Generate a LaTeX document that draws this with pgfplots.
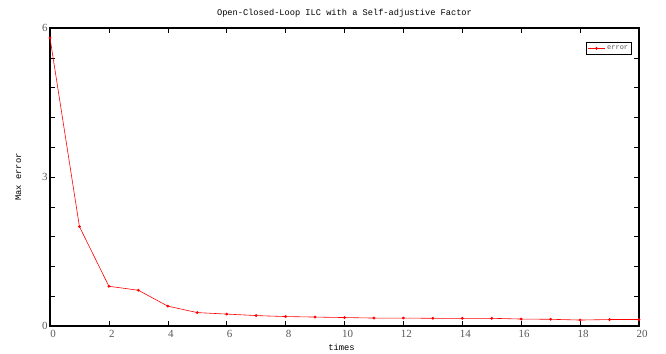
\documentclass[border=0pt]{standalone}
\usepackage{pgfplots}
\pgfplotsset{compat=1.18}
\usepackage{fontspec}
\setmainfont{Liberation Mono}
\newfontfamily\numfont{Liberation Serif}
\begin{document}
\begin{tikzpicture}
\path[use as bounding box] (-50bp,-28bp) rectangle (616bp,326bp);
\begin{axis}[
  at={(0,0)}, anchor=south west,
  scale only axis, width=589bp, height=298bp,
  xmin=0, xmax=20, ymin=0, ymax=6,
  xtick={0,2,...,20},
  ytick={0,3,6},
  minor ytick={0.6,1.2,1.8,2.4,3.6,4.2,4.8,5.4},
  tick align=inside,
  major tick length=5bp, minor tick length=5bp,
  tick style={black, semithick},
  axis line style={black, line width=1.2pt},
  ticklabel style={font=\numfont\fontsize{11}{12}\selectfont, text=black!65},
  xticklabel style={yshift=-1bp, xshift=3bp},
  yticklabel style={xshift=1bp},
  /pgf/number format/assume math mode=true,
  xtick pos=both, ytick pos=both,
  title={Open-Closed-Loop ILC with a Self-adjustive Factor},
  title style={font=\fontsize{8.7}{9}\selectfont, at={(axis description cs:0.5,1.03)}, anchor=center},
  xlabel={times},
  ylabel={Max error},
  xlabel style={font=\fontsize{8.8}{9}\selectfont, at={(axis description cs:0.495,-0.071)}, anchor=center},
  ylabel style={font=\fontsize{8.8}{9}\selectfont, at={(axis description cs:-0.054,0.5)}, anchor=center},
  legend style={at={(0.988,0.953)}, anchor=north east, draw=black, line width=1.2pt,
    font=\fontsize{7}{8}\selectfont, text=black!65, inner sep=1.2pt},
  legend image code/.code={
    \draw[mark repeat=2,mark phase=2,#1] plot coordinates {(0cm,0cm) (0.3cm,0cm) (0.6cm,0cm)};},
  legend cell align=left,
]
\addplot[red, line width=0.6pt, mark=*, mark size=1.1pt, mark options={solid}] coordinates {
(0,5.8) (1,2.0) (2,0.80) (3,0.72) (4,0.40) (5,0.27) (6,0.24) (7,0.21)
(8,0.19) (9,0.18) (10,0.17) (11,0.16) (12,0.16) (13,0.155) (14,0.155)
(15,0.155) (16,0.14) (17,0.135) (18,0.12) (19,0.13) (20,0.13)
};
\addlegendentry{error}
\end{axis}
\end{tikzpicture}
\end{document}
